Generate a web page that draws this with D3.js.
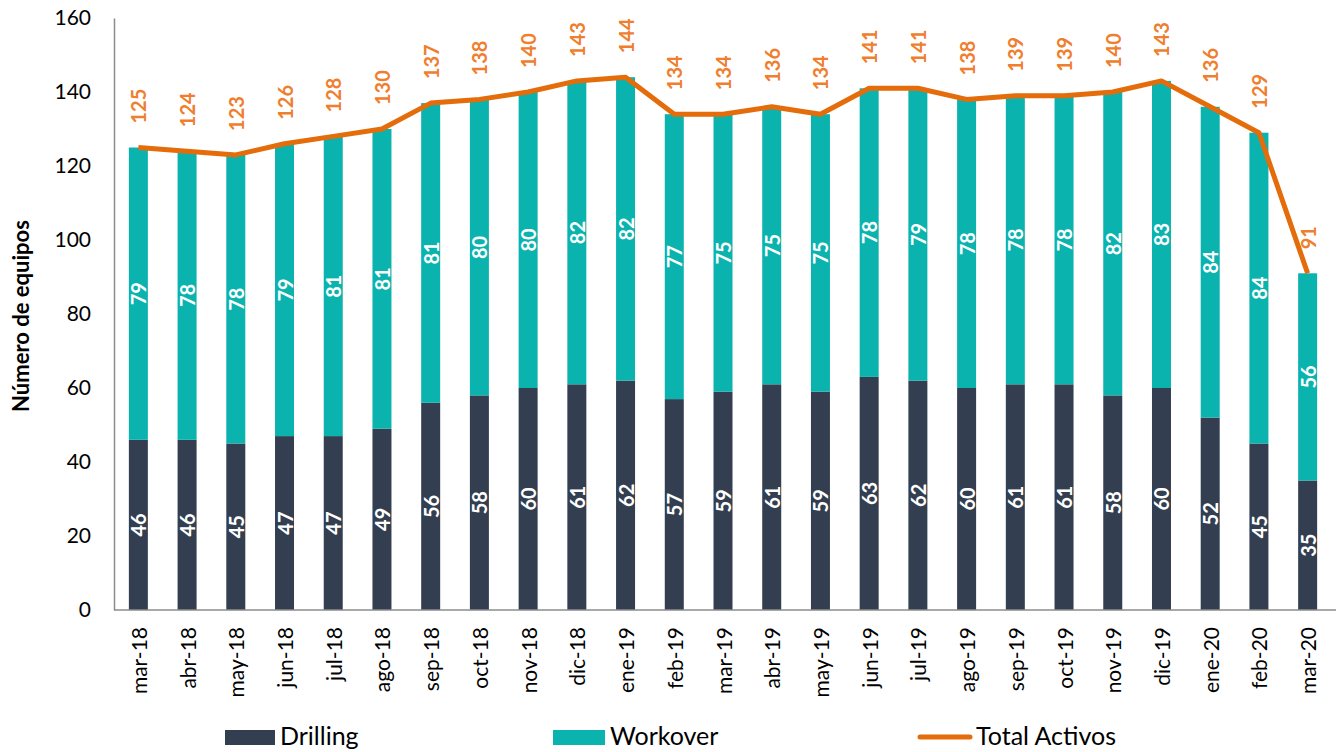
<!DOCTYPE html>
<html>
<head>
<meta charset="utf-8">
<script src="https://cdn.jsdelivr.net/npm/d3@7"></script>
<style>
  body { margin: 0; background: #fff; }
  svg { display: block; font-family: Lato, "Open Sans", sans-serif; }
</style>
</head>
<body>
<svg id="chart"></svg>
<script>
var months = ['mar-18','abr-18','may-18','jun-18','jul-18','ago-18','sep-18','oct-18','nov-18','dic-18',
  'ene-19','feb-19','mar-19','abr-19','may-19','jun-19','jul-19','ago-19','sep-19','oct-19','nov-19','dic-19',
  'ene-20','feb-20','mar-20'];
var drilling = [46,46,45,47,47,49,56,58,60,61,62,57,59,61,59,63,62,60,61,61,58,60,52,45,35];
var workover = [79,78,78,79,81,81,81,80,80,82,82,77,75,75,75,78,79,78,78,78,82,83,84,84,56];
var totalActivos = [125,124,123,126,128,130,137,138,140,143,144,134,134,136,134,141,141,138,139,139,140,143,136,129,91];
var yTicks = [0,20,40,60,80,100,120,140,160];

var width = 1336;
var height = 752;
var colDrill = '#333f50';
var colWork = '#0bb3af';
var colLine = '#e46c0a';
var colLabel = '#ef7f2f';

var svg = d3.select('#chart')
    .attr('width', width)
    .attr('height', height);

var x = d3.scaleBand()
    .domain(months)
    .range([114, 1332])
    .paddingInner(0.61)
    .paddingOuter(0.305);

var y = d3.scaleLinear()
    .domain([0, 160])
    .range([610, 18]);

var rows = months.map(function (m, i) {
    return { m: m, d: drilling[i], w: workover[i], t: totalActivos[i] };
});

// bars
var g = svg.append('g');
g.selectAll('rect.drill')
    .data(rows)
    .enter()
    .append('rect')
    .attr('class', 'drill')
    .attr('x', function (d) { return x(d.m); })
    .attr('width', x.bandwidth())
    .attr('y', function (d) { return y(d.d); })
    .attr('height', function (d) { return y(0) - y(d.d); })
    .attr('fill', colDrill);

g.selectAll('rect.work')
    .data(rows)
    .enter()
    .append('rect')
    .attr('class', 'work')
    .attr('x', function (d) { return x(d.m); })
    .attr('width', x.bandwidth())
    .attr('y', function (d) { return y(d.d + d.w); })
    .attr('height', function (d) { return y(d.d) - y(d.d + d.w); })
    .attr('fill', colWork);

// axes
var yAxis = d3.axisLeft(y).tickValues(yTicks).tickSize(0).tickPadding(23);
var ya = svg.append('g').attr('transform', 'translate(114,0)').call(yAxis);
ya.select('.domain').attr('stroke', '#8c8c8c').attr('stroke-width', 1.5);
ya.selectAll('text').attr('font-size', 21).attr('fill', '#000').attr('font-family', 'Lato, sans-serif');

var xAxis = d3.axisBottom(x).tickSize(0).tickPadding(0);
var xa = svg.append('g').attr('transform', 'translate(0,610)').call(xAxis);
xa.select('.domain').attr('d', 'M114,0H1336').attr('stroke', '#8c8c8c').attr('stroke-width', 1.5);
xa.selectAll('text')
    .attr('font-size', 21)
    .attr('fill', '#000')
    .attr('font-family', 'Lato, sans-serif')
    .attr('text-anchor', 'end')
    .attr('dy', null)
    .attr('y', null)
    .attr('transform', 'translate(0,17) rotate(-90)')
    .attr('dominant-baseline', 'central');

// total line
var line = d3.line()
    .x(function (d) { return x(d.m) + x.bandwidth() / 2; })
    .y(function (d) { return y(d.t); });
svg.append('path')
    .datum(rows)
    .attr('d', line)
    .attr('fill', 'none')
    .attr('stroke', colLine)
    .attr('stroke-width', 5)
    .attr('stroke-linejoin', 'round');

// value labels
function vlabel(cls, yPos, anchor, color, txt) {
    svg.selectAll('text.' + cls)
        .data(rows)
        .enter()
        .append('text')
        .attr('class', cls)
        .attr('transform', function (d) {
            return 'translate(' + (x(d.m) + x.bandwidth() / 2) + ',' + yPos(d) + ') rotate(-90)';
        })
        .attr('text-anchor', anchor)
        .attr('dominant-baseline', 'central')
        .attr('font-size', 20)
        .attr('font-weight', 'bold')
        .attr('fill', color)
        .text(txt);
}
vlabel('ld', function (d) { return (y(0) + y(d.d)) / 2; }, 'middle', '#fff', function (d) { return d.d; });
vlabel('lw', function (d) { return (y(d.d) + y(d.d + d.w)) / 2; }, 'middle', '#fff', function (d) { return d.w; });
vlabel('lt', function (d) { return y(d.t) - 24; }, 'start', colLabel, function (d) { return d.t; });

// y title
svg.append('text')
    .attr('transform', 'translate(20,316) rotate(-90)')
    .attr('text-anchor', 'middle')
    .attr('dominant-baseline', 'central')
    .attr('font-size', 22)
    .attr('font-weight', 'bold')
    .attr('fill', '#000')
    .text('Número de equipos');

// legend
var leg = svg.append('g');
leg.append('rect').attr('x', 225).attr('y', 730).attr('width', 50).attr('height', 15).attr('fill', colDrill);
leg.append('text').attr('x', 280).attr('y', 745).attr('font-size', 25).text('Drilling');
leg.append('rect').attr('x', 553).attr('y', 730).attr('width', 52).attr('height', 15).attr('fill', colWork);
leg.append('text').attr('x', 610).attr('y', 745).attr('font-size', 25).text('Workover');
leg.append('line').attr('x1', 920).attr('x2', 970).attr('y1', 737).attr('y2', 737)
    .attr('stroke', colLine).attr('stroke-width', 5).attr('stroke-linecap', 'round');
leg.append('text').attr('x', 976).attr('y', 745).attr('font-size', 25).text('Total Activos');
</script>
</body>
</html>
